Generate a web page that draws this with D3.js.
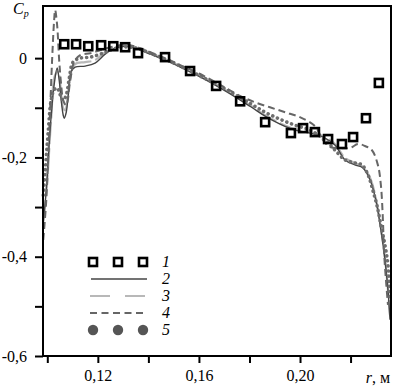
<!DOCTYPE html>
<html>
<head>
<meta charset="utf-8">
<script src="https://cdn.jsdelivr.net/npm/d3@7"></script>
<style>
  body { margin: 0; background: #fff; }
  svg text { font-family: "Liberation Serif", "Times New Roman", "DejaVu Serif", serif; }
</style>
</head>
<body>
<div id="chart"></div>
<script>
// experiment points (1)
const expR  = [0.1067, 0.1114, 0.1162, 0.1213, 0.1261, 0.1308, 0.1359, 0.1466, 0.1565, 0.1668, 0.1763, 0.1862, 0.1964, 0.2012, 0.2059, 0.2111, 0.2166, 0.2210, 0.2261, 0.2312];
const expCp = [0.028, 0.028, 0.024, 0.026, 0.024, 0.022, 0.010, 0.002, -0.026, -0.056, -0.087, -0.129, -0.151, -0.141, -0.149, -0.163, -0.173, -0.159, -0.121, -0.050];

// curve 2 (solid)
const r2  = [0.0984, 0.0996, 0.1011, 0.1027, 0.1039, 0.1047, 0.1055, 0.1063, 0.1067, 0.1075, 0.1083, 0.1094, 0.1110, 0.1150, 0.1189, 0.1229, 0.1268, 0.1308, 0.1348, 0.1407, 0.1466, 0.1526, 0.1605, 0.1704, 0.1802, 0.1862, 0.1921, 0.1980, 0.2040, 0.2099, 0.2138, 0.2178, 0.2217, 0.2249, 0.2277, 0.2300, 0.2320, 0.2336, 0.2348, 0.2356];
const cp2 = [-0.330, -0.266, -0.145, -0.054, -0.020, -0.044, -0.085, -0.115, -0.121, -0.109, -0.074, -0.028, -0.018, -0.016, -0.010, 0.008, 0.020, 0.024, 0.020, 0.008, -0.004, -0.018, -0.038, -0.066, -0.097, -0.117, -0.133, -0.145, -0.151, -0.161, -0.175, -0.205, -0.215, -0.221, -0.245, -0.286, -0.346, -0.406, -0.467, -0.527];

// curve 3 (light)
const r3  = [0.0984, 0.1000, 0.1015, 0.1031, 0.1043, 0.1055, 0.1063, 0.1071, 0.1079, 0.1091, 0.1110, 0.1150, 0.1189, 0.1229, 0.1268, 0.1308, 0.1348, 0.1407, 0.1466, 0.1526, 0.1605, 0.1704, 0.1802, 0.1862, 0.1921, 0.1980, 0.2040, 0.2099, 0.2138, 0.2178, 0.2217, 0.2249, 0.2277, 0.2300, 0.2320, 0.2336, 0.2348, 0.2356];
const cp3 = [-0.330, -0.245, -0.125, -0.034, -0.028, -0.074, -0.101, -0.105, -0.085, -0.040, -0.012, -0.008, -0.004, 0.012, 0.022, 0.026, 0.022, 0.010, -0.002, -0.016, -0.036, -0.064, -0.095, -0.115, -0.131, -0.143, -0.149, -0.159, -0.173, -0.201, -0.211, -0.219, -0.241, -0.282, -0.342, -0.402, -0.467, -0.517];

// curve 4 (dashed)
const r4  = [0.0984, 0.0996, 0.1008, 0.1019, 0.1027, 0.1031, 0.1039, 0.1047, 0.1055, 0.1063, 0.1075, 0.1091, 0.1106, 0.1130, 0.1170, 0.1209, 0.1249, 0.1288, 0.1328, 0.1367, 0.1407, 0.1466, 0.1526, 0.1605, 0.1684, 0.1763, 0.1822, 0.1881, 0.1941, 0.2000, 0.2059, 0.2091, 0.2119, 0.2158, 0.2198, 0.2229, 0.2257, 0.2284, 0.2308, 0.2320, 0.2328, 0.2332, 0.2340, 0.2348];
const cp4 = [-0.366, -0.286, -0.145, -0.004, 0.076, 0.097, 0.066, -0.004, -0.054, -0.085, -0.095, -0.044, -0.008, 0.006, 0.010, 0.016, 0.022, 0.026, 0.026, 0.020, 0.012, 0.000, -0.014, -0.032, -0.054, -0.076, -0.089, -0.099, -0.109, -0.119, -0.137, -0.165, -0.179, -0.181, -0.181, -0.173, -0.177, -0.185, -0.215, -0.256, -0.326, -0.386, -0.447, -0.497];

// curve 5 (dots)
const r5  = [0.0984, 0.0992, 0.1004, 0.1015, 0.1027, 0.1039, 0.1051, 0.1063, 0.1075, 0.1087, 0.1102, 0.1130, 0.1170, 0.1209, 0.1249, 0.1288, 0.1328, 0.1367, 0.1407, 0.1466, 0.1526, 0.1605, 0.1704, 0.1802, 0.1862, 0.1921, 0.1980, 0.2040, 0.2099, 0.2138, 0.2178, 0.2217, 0.2245, 0.2269, 0.2288, 0.2304, 0.2320, 0.2336, 0.2348, 0.2356];
const cp5 = [-0.276, -0.225, -0.145, -0.085, -0.064, -0.060, -0.074, -0.085, -0.074, -0.040, -0.008, 0.000, 0.002, 0.008, 0.016, 0.022, 0.022, 0.018, 0.010, -0.002, -0.016, -0.036, -0.062, -0.091, -0.109, -0.123, -0.135, -0.145, -0.165, -0.185, -0.205, -0.211, -0.215, -0.235, -0.266, -0.296, -0.336, -0.376, -0.416, -0.487];

const xTicks = [0.10, 0.12, 0.14, 0.16, 0.18, 0.20, 0.22];
const xLabels = ["", "0,12", "", "0,16", "", "0,20", ""];
const yTicks = [0, -0.1, -0.2, -0.3, -0.4, -0.5, -0.6];
const yLabels = ["0", "", "-0,2", "", "-0,4", "", "-0,6"];
const legendNames = ["1", "2", "3", "4", "5"];

const W = 395, H = 389;
const mLeft = 43, mRight = 391, mTop = 6, mBottom = 356;
const serif = "Liberation Serif, Times New Roman, serif";

var svg = d3.select("#chart").append("svg")
    .attr("width", W)
    .attr("height", H);

var x = d3.scaleLinear().domain([0.0983, 0.2360]).range([mLeft, mRight]);
var y = d3.scaleLinear().domain([-0.6, 0.105]).range([mBottom, mTop]);

function zip(a, b) {
  return a.map((v, i) => [v, b[i]]);
}

var line = d3.line()
    .x(d => x(d[0]))
    .y(d => y(d[1]))
    .curve(d3.curveCatmullRom.alpha(0.5));

var plot = svg.append("g");

// series curves
plot.append("path")
    .attr("d", line(zip(r3, cp3)))
    .attr("fill", "none")
    .attr("stroke", "#b8b8b8")
    .attr("stroke-width", 2.2)
    .attr("stroke-dasharray", "22,4");

plot.append("path")
    .attr("d", line(zip(r2, cp2)))
    .attr("fill", "none")
    .attr("stroke", "#444")
    .attr("stroke-width", 1.4);

plot.append("path")
    .attr("d", line(zip(r5, cp5)))
    .attr("fill", "none")
    .attr("stroke", "#6e6e6e")
    .attr("stroke-width", 3.6)
    .attr("stroke-linecap", "round")
    .attr("stroke-dasharray", "0.1,5");

plot.append("path")
    .attr("d", line(zip(r4, cp4)))
    .attr("fill", "none")
    .attr("stroke", "#666")
    .attr("stroke-width", 2)
    .attr("stroke-dasharray", "7,4");

plot.selectAll("rect.exp")
    .data(zip(expR, expCp))
    .enter()
    .append("rect")
    .attr("class", "exp")
    .attr("x", d => x(d[0]) - 4)
    .attr("y", d => y(d[1]) - 4)
    .attr("width", 8)
    .attr("height", 8)
    .attr("fill", "none")
    .attr("stroke", "#000")
    .attr("stroke-width", 2.6);

// axes
var xAxis = d3.axisBottom(x)
    .tickValues(xTicks)
    .tickSize(7)
    .tickFormat((d, i) => xLabels[i]);

var gx = svg.append("g")
    .attr("transform", "translate(0," + mBottom + ")")
    .attr("font-family", serif)
    .call(xAxis);
gx.attr("font-family", serif);
gx.select(".domain").remove();
gx.selectAll(".tick line").attr("stroke", "#000").attr("stroke-width", 2);
gx.selectAll(".tick text")
    .attr("y", 14)
    .attr("font-size", 16)
    .attr("fill", "#000");

var yAxis = d3.axisLeft(y)
    .tickValues(yTicks)
    .tickSize(8)
    .tickFormat((d, i) => yLabels[i]);

var gy = svg.append("g")
    .attr("transform", "translate(" + mLeft + ",0)")
    .call(yAxis);
gy.attr("font-family", serif);
gy.select(".domain").remove();
gy.selectAll(".tick line").attr("stroke", "#000").attr("stroke-width", 2);
gy.selectAll(".tick text")
    .attr("x", -16)
    .attr("font-size", 16)
    .attr("fill", "#000");

// frame
svg.append("rect")
    .attr("x", mLeft)
    .attr("y", mTop)
    .attr("width", mRight - mLeft)
    .attr("height", mBottom - mTop)
    .attr("fill", "none")
    .attr("stroke", "#000")
    .attr("stroke-width", 2);

// axis titles
var ct = svg.append("text")
    .attr("x", 13)
    .attr("y", 14)
    .attr("font-size", 16)
    .attr("font-style", "italic");
ct.append("tspan").text("C");
ct.append("tspan").attr("font-size", 10).attr("dy", 3).text("p");

var rt = svg.append("text")
    .attr("x", 390)
    .attr("y", 383)
    .attr("font-size", 16)
    .attr("text-anchor", "end");
rt.append("tspan").attr("font-style", "italic").text("r");
rt.append("tspan").text(", м");

// legend
var lx = [93, 118, 143];
var ly = d3.scalePoint().domain(legendNames).range([262, 330]);
var leg = svg.append("g");

leg.selectAll("rect")
    .data(lx)
    .enter()
    .append("rect")
    .attr("x", d => d - 4)
    .attr("y", ly("1") - 4)
    .attr("width", 8)
    .attr("height", 8)
    .attr("fill", "none")
    .attr("stroke", "#000")
    .attr("stroke-width", 2.6);

leg.append("line")
    .attr("x1", 91).attr("x2", 147)
    .attr("y1", ly("2")).attr("y2", ly("2"))
    .attr("stroke", "#444").attr("stroke-width", 1.6);

leg.append("line")
    .attr("x1", 90).attr("x2", 147)
    .attr("y1", ly("3")).attr("y2", ly("3"))
    .attr("stroke", "#b8b8b8").attr("stroke-width", 2)
    .attr("stroke-dasharray", "20,15");

leg.append("line")
    .attr("x1", 90).attr("x2", 147)
    .attr("y1", ly("4")).attr("y2", ly("4"))
    .attr("stroke", "#666").attr("stroke-width", 2.2)
    .attr("stroke-dasharray", "7,4.5");

leg.selectAll("circle")
    .data(lx)
    .enter()
    .append("circle")
    .attr("cx", d => d)
    .attr("cy", ly("5"))
    .attr("r", 5.2)
    .attr("fill", "#555");

leg.selectAll("text")
    .data(legendNames)
    .enter()
    .append("text")
    .attr("x", 162)
    .attr("y", d => ly(d) + 5)
    .attr("font-size", 16)
    .attr("font-style", "italic")
    .text(d => d);
</script>
</body>
</html>
